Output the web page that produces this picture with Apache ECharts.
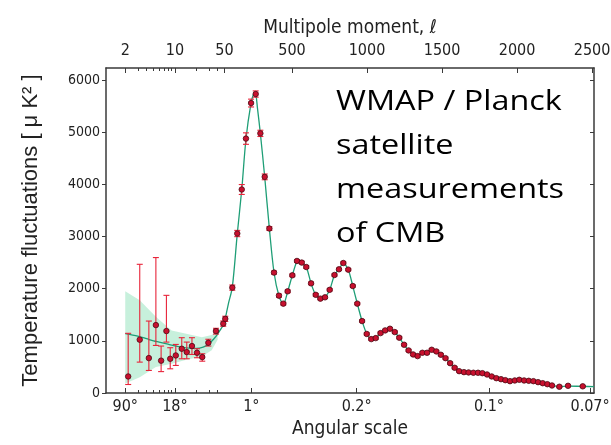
<!DOCTYPE html>
<html><head><meta charset="utf-8">
<script src="https://cdn.jsdelivr.net/npm/echarts@6/dist/echarts.min.js"></script>
<style>html,body{margin:0;padding:0;background:#fff}#c{width:611px;height:445px}</style>
</head><body><div id="c"></div>
<script>
// ---- tick labels ----
const topTickEll = [2, 10, 50, 500, 1000, 1500, 2000, 2500];
const topTickLabels = ['2', '10', '50', '500', '1000', '1500', '2000', '2500'];
const bottomTickEll = [2, 10, 229, 931, 1813, 2487];
const bottomTickLabels = ['90°', '18°', '1°', '0.2°', '0.1°', '0.07°'];
const minorTickEll = [3, 4, 5, 6, 7, 8, 9, 20, 30, 40];
const yTicks = [0, 1000, 2000, 3000, 4000, 5000, 6000];

// ---- low-l data (individual multipoles) ----
const lowEll = [2.2, 3.2, 4.3, 5.4, 6.4, 7.6, 8.6, 10.3, 12.5, 14.7, 17.4, 20.5, 24.3, 29.6, 37.9, 48];
const lowD   = [317, 1022, 669, 1302, 620, 1187, 656, 720, 848, 784, 900, 771, 688, 963, 1187, 1329];
const lowLo  = [163, 592, 432, 912, 410, 976, 464, 528, 656, 656, 739, 676, 610, 900, 1130, 1280];
const lowHi  = [1144, 2467, 1379, 2596, 900, 1872, 868, 931, 1060, 976, 1060, 848, 752, 1030, 1240, 1380];

// ---- high-l binned data ----
const highEll = [55, 102, 135, 165, 193, 227, 258, 289, 318, 349,
  380, 413, 442, 471, 502, 533, 565, 595, 627, 658,
  689, 720, 751, 783, 813, 842, 875, 905, 935, 967,
  998, 1028, 1058, 1090, 1121, 1153, 1185, 1215, 1247, 1277,
  1307, 1337, 1369, 1400, 1431, 1462, 1492, 1523, 1554, 1584,
  1614, 1646, 1677, 1709, 1740, 1769, 1800, 1831, 1862, 1893,
  1922, 1953, 1985, 2015, 2047, 2078, 2109, 2140, 2171, 2202,
  2233, 2282, 2340, 2438];
const highD = [1421, 2020, 3057, 3901, 4877, 5558, 5731, 4977, 4143, 3153,
  2308, 1866, 1713, 1949, 2256, 2531, 2500, 2415, 2102, 1882,
  1809, 1834, 1978, 2262, 2371, 2492, 2365, 2051, 1713, 1379,
  1132, 1033, 1052, 1148, 1200, 1232, 1168, 1060, 925, 816,
  739, 707, 771, 771, 829, 797, 733, 668, 572, 484,
  419, 400, 394, 388, 388, 380, 355, 317, 284, 265,
  246, 227, 240, 253, 240, 234, 227, 208, 188, 169,
  144, 120, 138, 128];
const highErr = [50, 50, 60, 95, 110, 75, 60, 60, 55, 35,
  30, 30, 25, 25, 25, 25, 25, 25, 25, 25,
  20, 20, 20, 20, 20, 20, 20, 20, 20, 20,
  20, 20, 20, 20, 20, 20, 20, 20, 20, 20,
  20, 20, 20, 20, 20, 20, 20, 20, 20, 20,
  15, 15, 15, 15, 15, 15, 15, 15, 15, 15,
  15, 15, 15, 15, 15, 15, 15, 15, 15, 15,
  15, 15, 15, 15];

// ---- best-fit model curve ----
const theoryEll = [2, 3, 4, 5, 6, 8, 10, 13, 16, 20, 25, 30, 35, 40, 45, 50,
  55, 75, 102, 135, 165, 193, 227, 245, 255, 270, 289, 318, 349, 380, 413, 442, 471, 502, 533, 550, 565, 595,
  627, 658, 689, 720, 751, 783, 813, 842, 875, 905, 935, 967, 998, 1028, 1058, 1090, 1121, 1153, 1185,
  1215, 1247, 1277, 1307, 1337, 1369, 1400, 1431, 1462, 1492, 1523, 1554, 1584, 1614, 1646, 1677,
  1709, 1740, 1769, 1800, 1831, 1862, 1893, 1922, 1953, 1985, 2015, 2047, 2078, 2109, 2140, 2171,
  2202, 2233, 2282, 2340, 2438, 2513];
const theoryD = [1140, 1090, 1040, 1000, 975, 935, 905, 875, 860, 855, 880, 940, 1030, 1130, 1240, 1330,
  1420, 1700, 2030, 3050, 3900, 4870, 5560, 5740, 5760, 5450, 4975, 4140, 3150, 2310, 1860, 1705, 1945, 2255, 2525, 2545, 2500, 2415,
  2100, 1880, 1805, 1840, 1975, 2260, 2375, 2485, 2365, 2050, 1715, 1380, 1135, 1035, 1055, 1148, 1205, 1230, 1165,
  1060, 925, 815, 740, 710, 770, 775, 825, 795, 733, 665, 572, 485, 420, 400, 394,
  389, 387, 378, 355, 318, 285, 265, 247, 232, 238, 248, 241, 234, 226, 208, 188,
  168, 145, 124, 133, 126, 124];

// ---- cosmic variance band ----
const bandEll = [2, 3.2, 5.4, 9, 15, 24, 33, 40];
const bandHi  = [1950, 1780, 1460, 1200, 1130, 1070, 1110, 1200];
const bandLo  = [180, 300, 500, 560, 640, 700, 820, 1020];

// hybrid axis: log below l=50, linear above
const SPLIT = 50, LOG_PX = 71, LIN_PX = 0.15;
function u(l) { return l >= SPLIT ? l : SPLIT - Math.log10(SPLIT / l) * LOG_PX / LIN_PX; }
function labelFor(ells, labels) {
  return function (v) {
    for (let i = 0; i < ells.length; i++) if (Math.abs(u(ells[i]) - v) < 0.5) return labels[i];
    return '';
  };
}

const NARROW = '"Liberation Sans Narrow", "DejaVu Sans Condensed", sans-serif';
const lineCol = '#3a3a3a';
const X_MIN = -740, X_MAX = 2513, Y_MAX = 6230;

const points = [];
const errs = [];
lowEll.forEach((l, i) => { points.push([u(l), lowD[i]]); errs.push([u(l), lowLo[i], lowHi[i]]); });
highEll.forEach((l, i) => { points.push([u(l), highD[i]]); errs.push([u(l), highD[i] - highErr[i], highD[i] + highErr[i]]); });

const chart = echarts.init(document.getElementById('c'), null, { renderer: 'canvas' });
const baseX = {
  type: 'value', min: X_MIN, max: X_MAX, splitLine: { show: false },
  axisLine: { show: true, onZero: false, lineStyle: { color: lineCol, width: 1.5 } }
};
chart.setOption({
  animation: false,
  backgroundColor: '#fff',
  grid: { left: 106, right: 17, top: 68, bottom: 52, containLabel: false, outerBoundsMode: 'none' },
  xAxis: [
    Object.assign({}, baseX, {
      position: 'bottom',
      axisTick: { show: true, inside: true, length: 5, customValues: bottomTickEll.map(u), lineStyle: { color: lineCol } },
      axisLabel: { show: true, customValues: bottomTickEll.map(u), formatter: labelFor(bottomTickEll, bottomTickLabels),
        margin: 6, fontSize: 16, fontFamily: NARROW, color: '#222' },
      name: 'Angular scale', nameLocation: 'middle', nameGap: 26,
      nameTextStyle: { fontSize: 19, fontFamily: NARROW, color: '#222' }
    }),
    Object.assign({}, baseX, {
      position: 'top',
      axisTick: { show: true, inside: true, length: 5, customValues: topTickEll.map(u), lineStyle: { color: lineCol } },
      axisLabel: { show: true, customValues: topTickEll.map(u), formatter: labelFor(topTickEll, topTickLabels),
        margin: 9, fontSize: 16, fontFamily: NARROW, color: '#222' },
      name: 'Multipole moment, ℓ', nameLocation: 'middle', nameGap: 30,
      nameTextStyle: { fontSize: 19, fontFamily: NARROW, color: '#222' }
    }),
    Object.assign({}, baseX, {
      position: 'bottom', axisLine: { show: false, onZero: false },
      axisTick: { show: true, inside: true, length: 3, customValues: minorTickEll.map(u), lineStyle: { color: lineCol } },
      axisLabel: { show: false }
    }),
    Object.assign({}, baseX, {
      position: 'top', axisLine: { show: false, onZero: false },
      axisTick: { show: true, inside: true, length: 3, customValues: minorTickEll.map(u), lineStyle: { color: lineCol } },
      axisLabel: { show: false }
    })
  ],
  yAxis: [
    {
      type: 'value', position: 'left', min: 0, max: Y_MAX, splitLine: { show: false },
      axisLine: { show: true, onZero: false, lineStyle: { color: lineCol, width: 1.5 } },
      axisTick: { show: true, inside: false, length: 4, customValues: yTicks, lineStyle: { color: lineCol } },
      axisLabel: { show: true, customValues: yTicks, formatter: v => String(v), margin: 6, fontSize: 14, fontFamily: NARROW, color: '#222' },
      name: 'Temperature fluctuations [ μ K² ]', nameLocation: 'middle', nameRotate: 90, nameGap: 64,
      nameTextStyle: { fontSize: 22, fontFamily: '"Liberation Sans", Arial, sans-serif', color: '#222' }
    },
    {
      type: 'value', position: 'right', min: 0, max: Y_MAX, splitLine: { show: false },
      axisLine: { show: true, onZero: false, lineStyle: { color: lineCol, width: 1.5 } },
      axisTick: { show: true, inside: true, length: 4, customValues: yTicks, lineStyle: { color: lineCol } },
      axisLabel: { show: false }
    }
  ],
  series: [
    {
      type: 'custom', name: 'band', silent: true, z: 1, xAxisIndex: 0, yAxisIndex: 0,
      data: [[u(bandEll[0]), bandHi[0]]],
      renderItem: function (params, api) {
        if (params.dataIndex !== 0) return;
        const pts = [];
        for (let i = 0; i < bandEll.length; i++) pts.push(api.coord([u(bandEll[i]), bandHi[i]]));
        for (let i = bandEll.length - 1; i >= 0; i--) pts.push(api.coord([u(bandEll[i]), bandLo[i]]));
        return { type: 'polygon', shape: { points: pts }, style: { fill: 'rgba(130, 222, 178, 0.45)', stroke: null } };
      }
    },
    {
      type: 'line', name: 'model', z: 2, xAxisIndex: 0, yAxisIndex: 0,
      data: theoryEll.map((l, i) => [u(l), theoryD[i]]),
      showSymbol: false, smooth: 0.3,
      lineStyle: { color: '#1e9e76', width: 1.3 }
    },
    {
      type: 'custom', name: 'errors', z: 3, xAxisIndex: 0, yAxisIndex: 0,
      encode: { x: 0, y: [1, 2] },
      data: errs,
      renderItem: function (params, api) {
        const x = api.value(0);
        const top = api.coord([x, api.value(2)]);
        const bot = api.coord([x, api.value(1)]);
        const hw = 3;
        const style = { stroke: '#e8243a', lineWidth: 1.1, fill: null };
        return { type: 'group', children: [
          { type: 'line', shape: { x1: top[0], y1: top[1], x2: bot[0], y2: bot[1] }, style: style },
          { type: 'line', shape: { x1: top[0] - hw, y1: top[1], x2: top[0] + hw, y2: top[1] }, style: style },
          { type: 'line', shape: { x1: bot[0] - hw, y1: bot[1], x2: bot[0] + hw, y2: bot[1] }, style: style }
        ] };
      }
    },
    {
      type: 'scatter', name: 'data', z: 4, xAxisIndex: 0, yAxisIndex: 0,
      data: points, symbol: 'circle', symbolSize: 5.5,
      itemStyle: { color: '#c8102e', borderColor: '#4a0a14', borderWidth: 0.8, opacity: 1 }
    }
  ],
  graphic: [
    {
      type: 'text', x: 336, y: 80, scaleX: 1.2, z: 100,
      style: { text: 'WMAP / Planck\nsatellite\nmeasurements\nof CMB', fontSize: 27, fontFamily: '"Open Sans", "Noto Sans", sans-serif',
        fill: '#000', lineHeight: 44, verticalAlign: 'top', align: 'left' }
    }
  ]
});
</script></body></html>
